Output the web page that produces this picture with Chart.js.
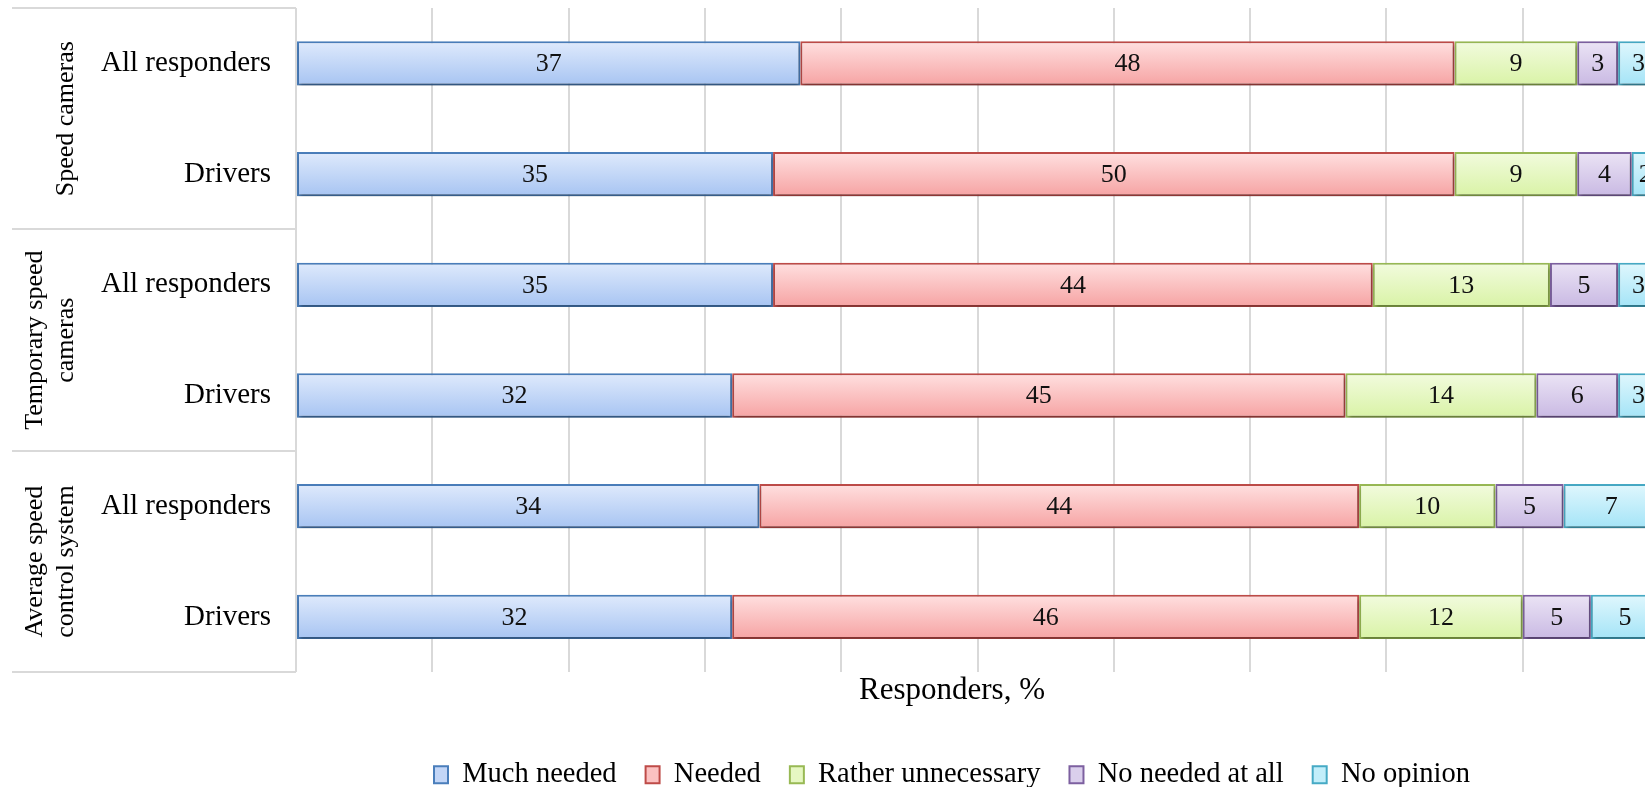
<!DOCTYPE html>
<html>
<head>
<meta charset="utf-8">
<script src="https://cdn.jsdelivr.net/npm/chart.js@4.4.1/dist/chart.umd.min.js"></script>
<style>
  html, body { margin: 0; padding: 0; background: #fff; overflow: hidden; }
  #wrap { width: 1904px; height: 787px; }
</style>
</head>
<body>
<div id="wrap"><canvas id="c" width="1904" height="787"></canvas></div>
<script>
// Survey answers, % of responders, per measure and respondent group
const rowLabels = ['All responders', 'Drivers', 'All responders', 'Drivers', 'All responders', 'Drivers'];
const groupLabels = [['Speed cameras'], ['Temporary speed', 'cameras'], ['Average speed', 'control system']];
const seriesNames = ['Much needed', 'Needed', 'Rather unnecessary', 'No needed at all', 'No opinion'];
const muchNeeded = [37, 35, 35, 32, 34, 32];
const needed = [48, 50, 44, 45, 44, 46];
const ratherUnnecessary = [9, 9, 13, 14, 10, 12];
const noNeededAtAll = [3, 4, 5, 6, 5, 5];
const noOpinion = [3, 2, 3, 3, 7, 5];
const xTickValues = [0, 10, 20, 30, 40, 50, 60, 70, 80, 90, 100];

const FONT = '"Liberation Serif", "Times New Roman", serif';
const GRID = '#d9d9d9';

// fill: [top, bottom, flat], border colour
const palette = [
  { top: '#dfeafc', bottom: '#a7c4f2', flat: '#c3d6f7', border: '#4a7ebb' },
  { top: '#ffe0e0', bottom: '#f6a3a3', flat: '#fbc1c1', border: '#be4b48' },
  { top: '#f2fbde', bottom: '#d9f3a6', flat: '#e6f7c2', border: '#98b954' },
  { top: '#ebe4f5', bottom: '#c9b9e3', flat: '#dacfec', border: '#7d60a0' },
  { top: '#e0f7fd', bottom: '#a4e4f7', flat: '#c2eefa', border: '#46aac5' }
];

const BAR_FRACTION = 0.4;

function barGradient(p) {
  return (c) => {
    const chart = c.chart;
    if (c.type !== 'data' || !chart.chartArea || !chart.scales.y) return p.flat;
    const y = chart.scales.y;
    const yc = y.getPixelForValue(c.dataIndex);
    const band = (y.bottom - y.top) / rowLabels.length;
    const h = band * BAR_FRACTION / 2;
    const g = chart.ctx.createLinearGradient(0, yc - h, 0, yc + h);
    g.addColorStop(0, p.top);
    g.addColorStop(1, p.bottom);
    return g;
  };
}

const seriesValues = [muchNeeded, needed, ratherUnnecessary, noNeededAtAll, noOpinion];
const datasets = seriesNames.map((name, i) => ({
  label: name,
  data: seriesValues[i],
  backgroundColor: barGradient(palette[i]),
  borderColor: palette[i].border,
  borderWidth: 2,
  borderSkipped: false,
  categoryPercentage: 1,
  barPercentage: BAR_FRACTION
}));

// soft drop shadow under the bars, then the value inside each segment
const barDecor = {
  id: 'barDecor',
  beforeDatasetsDraw(chart) {
    const ctx = chart.ctx;
    ctx.save();
    ctx.shadowColor = 'rgba(0,0,0,0.35)';
    ctx.shadowBlur = 4;
    ctx.shadowOffsetX = 1;
    ctx.shadowOffsetY = 3;
  },
  afterDatasetsDraw(chart) {
    const ctx = chart.ctx;
    ctx.restore();
    ctx.save();
    ctx.font = '26px ' + FONT;
    ctx.fillStyle = '#111';
    ctx.textAlign = 'center';
    ctx.textBaseline = 'middle';
    chart.data.datasets.forEach((ds, di) => {
      chart.getDatasetMeta(di).data.forEach((el, i) => {
        const cx = (el.x + el.base) / 2;
        ctx.fillText(String(ds.data[i]), cx, el.y + 1);
      });
    });
    ctx.restore();
  }
};

// table-like frame on the left with the rotated group names
const groupFrame = {
  id: 'groupFrame',
  afterDraw(chart) {
    const ctx = chart.ctx;
    const y = chart.scales.y;
    const left = 12, right = chart.chartArea.left;
    const band = (y.bottom - y.top) / rowLabels.length;
    ctx.save();
    ctx.strokeStyle = GRID;
    ctx.lineWidth = 2;
    [0, 2, 4, 6].forEach(k => {
      const yy = Math.round(y.top + k * band);
      ctx.beginPath();
      ctx.moveTo(left, yy);
      ctx.lineTo(right, yy);
      ctx.stroke();
    });
    ctx.font = '26px ' + FONT;
    ctx.fillStyle = '#000';
    ctx.textAlign = 'center';
    ctx.textBaseline = 'middle';
    const lineGap = 31;
    groupLabels.forEach((lines, g) => {
      const cy = y.top + (2 * g + 1) * band;
      const baseX = 66 - (lines.length - 1) * lineGap;
      lines.forEach((txt, li) => {
        ctx.save();
        ctx.translate(baseX + li * lineGap, cy);
        ctx.rotate(-Math.PI / 2);
        ctx.fillText(txt, 0, 0);
        ctx.restore();
      });
    });
    ctx.restore();
  }
};

new Chart(document.getElementById('c'), {
  type: 'bar',
  data: { labels: rowLabels, datasets },
  plugins: [barDecor, groupFrame],
  options: {
    indexAxis: 'y',
    responsive: false,
    animation: false,
    devicePixelRatio: 1,
    layout: { padding: { top: 8, left: 0, right: 0, bottom: -12 } },
    scales: {
      x: {
        stacked: true,
        min: 0,
        max: 100,
        afterBuildTicks: (s) => { s.ticks = xTickValues.map(v => ({ value: v })); },
        ticks: { display: false },
        grid: { color: GRID, lineWidth: 2, drawTicks: false },
        border: { display: false },
        afterFit: (s) => { s.height = 0; s.paddingLeft = 0; s.paddingRight = 0; }
      },
      y: {
        stacked: true,
        grid: { display: false, drawTicks: false },
        border: { display: false },
        ticks: { color: '#000', padding: 25, font: { family: FONT, size: 29 } },
        afterFit: (s) => { s.width = 296; s.paddingTop = 0; s.paddingBottom = 0; }
      },
      y2: {
        type: 'category',
        position: 'right',
        grid: { display: false, drawTicks: false },
        border: { display: false },
        ticks: { display: false },
        afterFit: (s) => { s.width = 245; s.paddingTop = 0; s.paddingBottom = 0; }
      }
    },
    plugins: {
      tooltip: { enabled: false },
      title: {
        display: true,
        text: 'Responders, %',
        position: 'bottom',
        weight: 500,
        color: '#000',
        font: { family: FONT, size: 31, weight: 'normal' },
        padding: { top: 0, bottom: 22 }
      },
      legend: {
        position: 'bottom',
        weight: 3000,
        labels: {
          color: '#000',
          font: { family: FONT, size: 28.5 },
          boxWidth: 14,
          boxHeight: 17,
          padding: 29,
          generateLabels: (chart) => chart.data.datasets.map((ds, i) => ({
            text: ds.label,
            fillStyle: palette[i].flat,
            strokeStyle: palette[i].border,
            lineWidth: 2,
            fontColor: '#000',
            hidden: false,
            datasetIndex: i
          }))
        }
      }
    }
  }
});
</script>
</body>
</html>
